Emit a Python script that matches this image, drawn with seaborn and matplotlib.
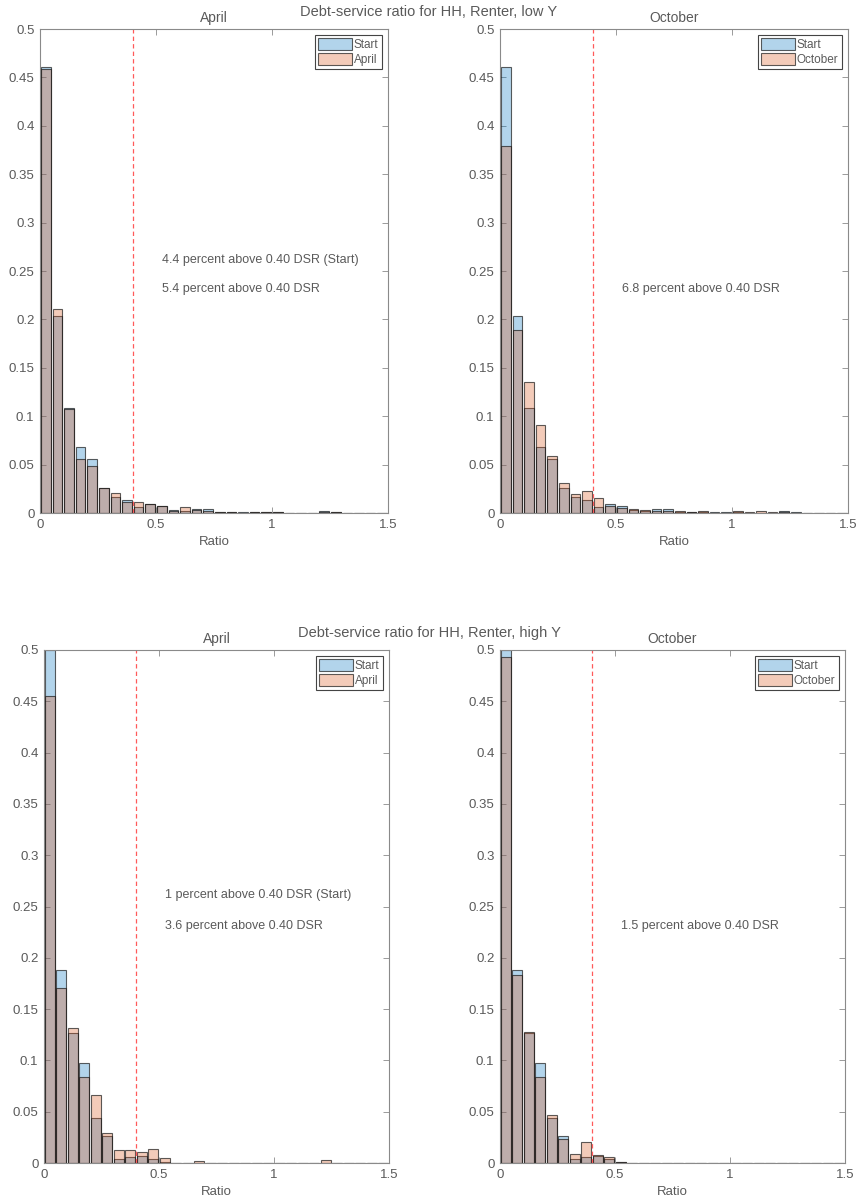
import numpy as np
import pandas as pd
import matplotlib
matplotlib.use('Agg')
import matplotlib.pyplot as plt
import seaborn as sns

# bins of the debt-service ratio (width 0.05, 0 to 1.5)
bin_edges = [round(0.05 * i, 2) for i in range(31)]
bin_centers = [e + 0.025 for e in bin_edges[:-1]]

# share of households per bin
low_start = [0.461, 0.204, 0.108, 0.068, 0.056, 0.026, 0.017, 0.013, 0.006, 0.009,
             0.007, 0.003, 0.002, 0.004, 0.004, 0.001, 0.0015, 0.0007, 0.0007, 0.0007,
             0.0007, 0.0005, 0.0005, 0.0005, 0.002, 0.001, 0.0005, 0, 0, 0]
low_april = [0.459, 0.211, 0.107, 0.056, 0.049, 0.026, 0.021, 0.011, 0.011, 0.009,
             0.007, 0.002, 0.006, 0.0035, 0.002, 0.001, 0.0015, 0.0005, 0.0007, 0.0007,
             0.0007, 0.0003, 0.0003, 0.0003, 0.001, 0.001, 0.0005, 0, 0, 0]
low_october = [0.379, 0.189, 0.135, 0.091, 0.059, 0.031, 0.020, 0.023, 0.015, 0.007,
               0.005, 0.004, 0.003, 0.002, 0.002, 0.002, 0.0015, 0.002, 0.0005, 0.0005,
               0.002, 0.001, 0.002, 0.001, 0.001, 0, 0, 0, 0, 0]
high_start = [0.500, 0.188, 0.127, 0.097, 0.044, 0.026, 0.004, 0.006, 0.007, 0.004,
              0.001, 0, 0, 0, 0, 0, 0, 0, 0, 0,
              0, 0, 0, 0, 0, 0, 0, 0, 0, 0]
high_april = [0.455, 0.171, 0.132, 0.084, 0.066, 0.029, 0.013, 0.013, 0.011, 0.014,
              0.005, 0, 0, 0.002, 0, 0, 0, 0, 0, 0,
              0, 0, 0, 0, 0.003, 0, 0, 0, 0, 0]
high_october = [0.493, 0.183, 0.128, 0.084, 0.047, 0.023, 0.009, 0.020, 0.008, 0.006,
                0.001, 0, 0, 0, 0, 0, 0, 0, 0, 0,
                0, 0, 0, 0, 0, 0, 0, 0, 0, 0]

suptitles = ['Debt-service ratio for HH, Renter, low Y',
             'Debt-service ratio for HH, Renter, high Y']
notes_low = [['4.4 percent above 0.40 DSR (Start)', '5.4 percent above 0.40 DSR'],
             ['6.8 percent above 0.40 DSR']]
notes_high = [['1 percent above 0.40 DSR (Start)', '3.6 percent above 0.40 DSR'],
              ['1.5 percent above 0.40 DSR']]
dsr_cut = 0.40

blue = (0.0, 0.447, 0.741)
orange = (0.85, 0.325, 0.098)
txt = '#5a5a5a'
box = '#8a8a8a'

sns.set_style('ticks')
plt.rcParams['font.family'] = ['Liberation Sans', 'DejaVu Sans']
plt.rcParams['text.color'] = txt
plt.rcParams['axes.labelcolor'] = txt
plt.rcParams['xtick.color'] = box
plt.rcParams['ytick.color'] = box
plt.rcParams['xtick.labelcolor'] = txt
plt.rcParams['ytick.labelcolor'] = txt

fig = plt.figure(figsize=(8.58, 12.03), dpi=100)

positions = {
    (0, 0): [40 / 858, 1 - 513 / 1203, 348 / 858, 484 / 1203],
    (0, 1): [500 / 858, 1 - 513 / 1203, 348 / 858, 484 / 1203],
    (1, 0): [44 / 858, 1 - 1163 / 1203, 345 / 858, 513 / 1203],
    (1, 1): [500 / 858, 1 - 1163 / 1203, 345 / 858, 513 / 1203],
}

panels = [
    (0, 0, low_start, low_april, 'April', notes_low[0]),
    (0, 1, low_start, low_october, 'October', notes_low[1]),
    (1, 0, high_start, high_april, 'April', notes_high[0]),
    (1, 1, high_start, high_october, 'October', notes_high[1]),
]

for row, col, start, later, name, notes in panels:
    ax = fig.add_axes(positions[(row, col)])
    df = pd.DataFrame({'ratio': bin_centers, 'start': start, 'later': later})
    sns.histplot(data=df, x='ratio', weights='start', bins=bin_edges, shrink=0.84,
                 color=blue, alpha=0.3, edgecolor=(0.1, 0.1, 0.1, 0.7), linewidth=0.8,
                 label='Start', ax=ax)
    sns.histplot(data=df, x='ratio', weights='later', bins=bin_edges, shrink=0.84,
                 color=orange, alpha=0.3, edgecolor=(0.1, 0.1, 0.1, 0.7), linewidth=0.8,
                 label=name, ax=ax)
    ax.axvline(dsr_cut, color='#ff5a5a', linestyle=(0, (3.5, 2.5)), linewidth=0.9)

    ax.set_xlim(0, 1.5)
    ax.set_ylim(0, 0.5)
    ax.set_xticks([0, 0.5, 1, 1.5])
    ax.set_xticklabels(['0', '0.5', '1', '1.5'])
    yt = [round(0.05 * i, 2) for i in range(11)]
    ax.set_yticks(yt)
    ax.set_yticklabels(['0'] + [f'{v:g}' for v in yt[1:]])
    ax.tick_params(direction='in', top=True, right=True, length=4, width=0.6,
                   labelsize=9.5, pad=4)
    for s in ax.spines.values():
        s.set_color(box)
        s.set_linewidth(0.8)

    ax.set_title(name, fontsize=10, color=txt, pad=5)
    ax.set_ylabel('')
    ax.set_xlabel('Ratio', fontsize=9.5, labelpad=4)

    ys = [0.261, 0.231] if len(notes) == 2 else [0.231]
    for t, y in zip(notes, ys):
        ax.text(0.525, y, t, fontsize=9, color=txt, va='center', ha='left')

    leg = ax.legend(loc='upper right', fontsize=8.5, fancybox=False, framealpha=1,
                    edgecolor='#444444', handlelength=2.9, handleheight=1.1,
                    handletextpad=0.15, labelspacing=0.2, borderpad=0.25,
                    borderaxespad=0.55)
    leg.get_frame().set_linewidth(0.8)
    for t in leg.get_texts():
        t.set_color(txt)

fig.text(0.5, 1 - 12 / 1203, suptitles[0], ha='center', va='center', fontsize=10.5, color=txt)
fig.text(0.5, 1 - 633 / 1203, suptitles[1], ha='center', va='center', fontsize=10.5, color=txt)

fig.savefig('out.png', dpi=100)
